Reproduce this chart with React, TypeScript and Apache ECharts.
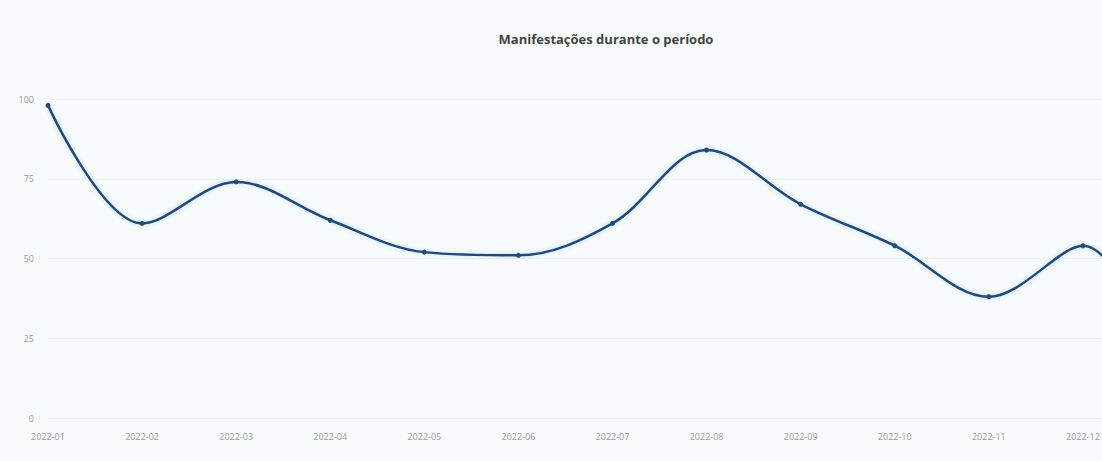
import React, { useEffect, useRef } from "react";
import * as echarts from "echarts";

const categories = [
  "2022-01", "2022-02", "2022-03", "2022-04", "2022-05", "2022-06",
  "2022-07", "2022-08", "2022-09", "2022-10", "2022-11", "2022-12", "2023-01",
];
const values = [98, 61, 74, 62, 52, 51, 61, 84, 67, 54, 38, 54, 2];
const yTicks = [0, 25, 50, 75, 100];
const titleText = "Manifestações durante o período";

export default function App() {
  const ref = useRef<HTMLDivElement>(null);
  useEffect(() => {
    document.body.style.margin = "0";
    document.body.style.background = "#f8fbfb";
    if (!ref.current) return;
    const chart = echarts.init(ref.current, undefined, { renderer: "svg" });
    chart.setOption({
      animation: false,
      backgroundColor: "#f8fbfb",
      title: {
        text: titleText,
        left: "center",
        top: 27,
        textStyle: { fontFamily: "Open Sans", fontSize: 13, fontWeight: "bold", color: "#444" },
      },
      grid: { left: 48, right: 35, top: 99, bottom: 43 },
      xAxis: {
        type: "category",
        data: categories,
        boundaryGap: false,
        axisLine: { show: false },
        axisTick: { show: false },
        axisLabel: { fontFamily: "Open Sans", fontSize: 9, color: "#999", margin: 14 },
      },
      yAxis: {
        type: "value",
        min: yTicks[0],
        max: yTicks[yTicks.length - 1],
        interval: 25,
        axisLabel: { fontFamily: "Open Sans", fontSize: 9, color: "#999", margin: 14 },
        splitLine: { lineStyle: { color: "#eef1f2", width: 1 } },
      },
      series: [
        {
          type: "line",
          data: values,
          smooth: 0.35,
          symbol: "circle",
          symbolSize: 5,
          itemStyle: { color: "#234a7a" },
          lineStyle: { color: "#234a7a", width: 2.5, shadowColor: "rgba(80,160,230,0.35)", shadowBlur: 4 },
        },
      ],
    });
    return () => chart.dispose();
  }, []);
  return (
    <div style={{ width: 1102, height: 461, overflow: "hidden" }}>
      <div ref={ref} style={{ width: 1212, height: 461 }} />
    </div>
  );
}
